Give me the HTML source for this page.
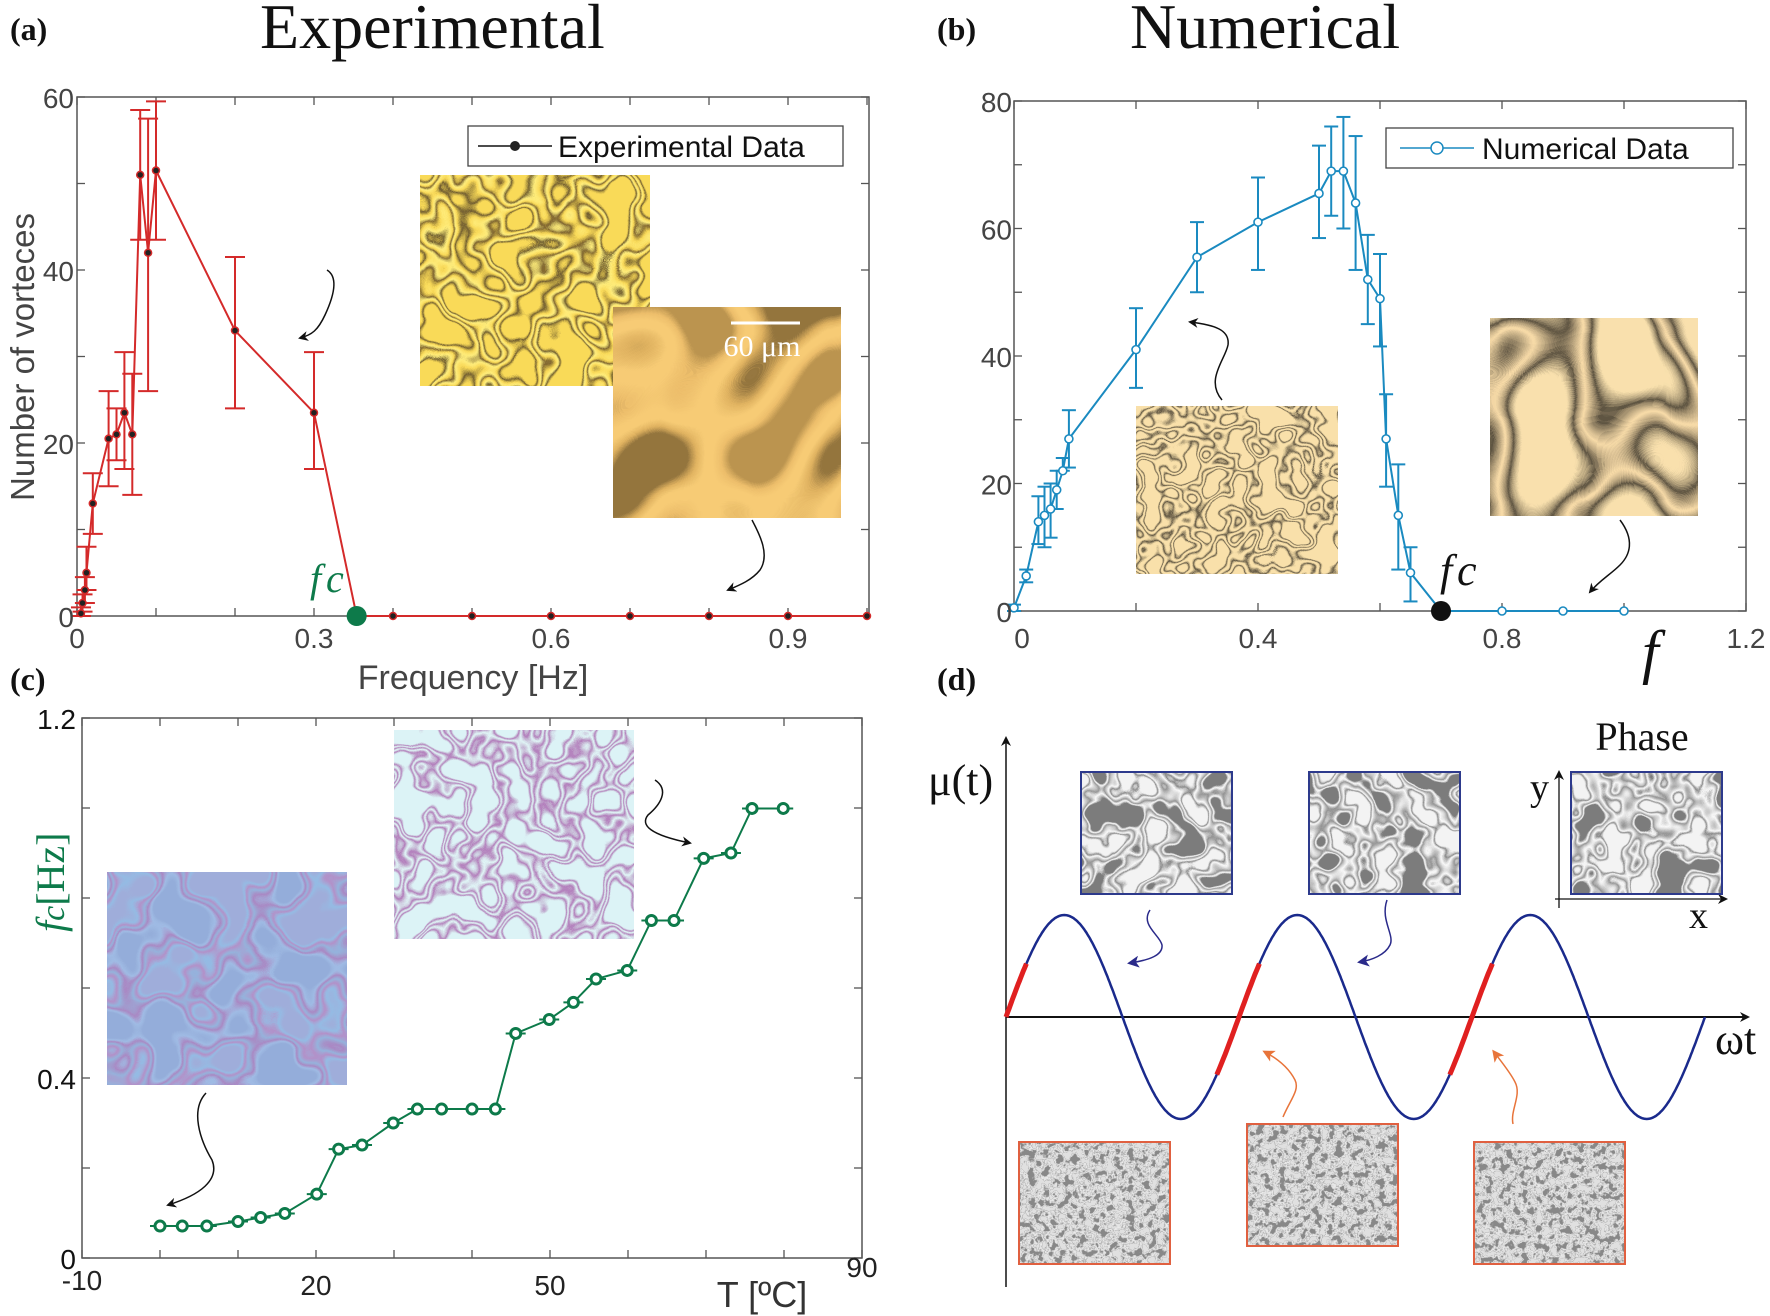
<!DOCTYPE html>
<html><head><meta charset="utf-8"><style>
html,body{margin:0;padding:0;background:#fff;}
svg{display:block;}
</style></head><body>
<svg id="s" width="1770" height="1316" viewBox="0 0 1770 1316" xmlns="http://www.w3.org/2000/svg">
<defs>
<filter id="orA" x="0" y="0" width="1" height="1">
 <feTurbulence type="fractalNoise" baseFrequency="0.022" numOctaves="2" seed="3"/>
 <feColorMatrix type="matrix" values="1 0 0 0 0 1 0 0 0 0 1 0 0 0 0 0 0 0 0 1"/>
 <feComponentTransfer><feFuncR type="linear" slope="4" intercept="-1.5"/><feFuncG type="linear" slope="4" intercept="-1.5"/><feFuncB type="linear" slope="4" intercept="-1.5"/></feComponentTransfer>
 <feComponentTransfer>
  <feFuncR type="table" tableValues="0.95 0.15 0.95 1 0.2 0.95 1 0.15 0.95"/>
  <feFuncG type="table" tableValues="0.7 0.1 0.7 0.85 0.12 0.7 0.85 0.1 0.7"/>
  <feFuncB type="table" tableValues="0.1 0.03 0.1 0.2 0.03 0.1 0.2 0.03 0.1"/>
 </feComponentTransfer>
</filter>
<filter id="orB" x="0" y="0" width="1" height="1">
 <feTurbulence type="fractalNoise" baseFrequency="0.012" numOctaves="1" seed="7"/>
 <feColorMatrix type="matrix" values="1 0 0 0 0 1 0 0 0 0 1 0 0 0 0 0 0 0 0 1"/>
 <feComponentTransfer><feFuncR type="linear" slope="4" intercept="-1.5"/><feFuncG type="linear" slope="4" intercept="-1.5"/><feFuncB type="linear" slope="4" intercept="-1.5"/></feComponentTransfer>
 <feComponentTransfer>
  <feFuncR type="table" tableValues="0.3 0.75 0.93 0.93 0.85 0.5"/>
  <feFuncG type="table" tableValues="0.18 0.45 0.6 0.6 0.52 0.3"/>
  <feFuncB type="table" tableValues="0.05 0.12 0.18 0.18 0.15 0.08"/>
 </feComponentTransfer>
</filter>
<filter id="orC" x="0" y="0" width="1" height="1">
 <feTurbulence type="fractalNoise" baseFrequency="0.035" numOctaves="2" seed="11"/>
 <feColorMatrix type="matrix" values="1 0 0 0 0 1 0 0 0 0 1 0 0 0 0 0 0 0 0 1"/>
 <feComponentTransfer><feFuncR type="linear" slope="4" intercept="-1.5"/><feFuncG type="linear" slope="4" intercept="-1.5"/><feFuncB type="linear" slope="4" intercept="-1.5"/></feComponentTransfer>
 <feComponentTransfer>
  <feFuncR type="table" tableValues="0.95 0.1 0.95 0.95 0.1 0.95 0.95 0.1 0.95"/>
  <feFuncG type="table" tableValues="0.75 0.08 0.75 0.75 0.08 0.75 0.75 0.08 0.75"/>
  <feFuncB type="table" tableValues="0.4 0.05 0.4 0.4 0.05 0.4 0.4 0.05 0.4"/>
 </feComponentTransfer>
</filter>
<filter id="orD" x="0" y="0" width="1" height="1">
 <feTurbulence type="fractalNoise" baseFrequency="0.012" numOctaves="1" seed="5"/>
 <feColorMatrix type="matrix" values="1 0 0 0 0 1 0 0 0 0 1 0 0 0 0 0 0 0 0 1"/>
 <feComponentTransfer><feFuncR type="linear" slope="4" intercept="-1.5"/><feFuncG type="linear" slope="4" intercept="-1.5"/><feFuncB type="linear" slope="4" intercept="-1.5"/></feComponentTransfer>
 <feComponentTransfer>
  <feFuncR type="table" tableValues="0.95 0.1 0.95 0.1 0.95"/>
  <feFuncG type="table" tableValues="0.75 0.08 0.72 0.08 0.75"/>
  <feFuncB type="table" tableValues="0.42 0.05 0.4 0.05 0.42"/>
 </feComponentTransfer>
</filter>
<filter id="puA" x="0" y="0" width="1" height="1">
 <feTurbulence type="fractalNoise" baseFrequency="0.02" numOctaves="2" seed="2"/>
 <feColorMatrix type="matrix" values="1 0 0 0 0 1 0 0 0 0 1 0 0 0 0 0 0 0 0 1"/>
 <feComponentTransfer><feFuncR type="linear" slope="4" intercept="-1.5"/><feFuncG type="linear" slope="4" intercept="-1.5"/><feFuncB type="linear" slope="4" intercept="-1.5"/></feComponentTransfer>
 <feComponentTransfer>
  <feFuncR type="table" tableValues="0.3 0.35 0.4 0.3 0.45 0.3 0.35"/>
  <feFuncG type="table" tableValues="0.42 0.5 0.25 0.45 0.28 0.5 0.42"/>
  <feFuncB type="table" tableValues="0.7 0.78 0.55 0.72 0.58 0.78 0.7"/>
 </feComponentTransfer>
</filter>
<filter id="puB" x="0" y="0" width="1" height="1">
 <feTurbulence type="fractalNoise" baseFrequency="0.028" numOctaves="2" seed="9"/>
 <feColorMatrix type="matrix" values="1 0 0 0 0 1 0 0 0 0 1 0 0 0 0 0 0 0 0 1"/>
 <feComponentTransfer><feFuncR type="linear" slope="4" intercept="-1.5"/><feFuncG type="linear" slope="4" intercept="-1.5"/><feFuncB type="linear" slope="4" intercept="-1.5"/></feComponentTransfer>
 <feComponentTransfer>
  <feFuncR type="table" tableValues="0.72 0.45 0.75 0.45 0.75 0.45 0.72"/>
  <feFuncG type="table" tableValues="0.9 0.2 0.92 0.2 0.92 0.2 0.9"/>
  <feFuncB type="table" tableValues="0.92 0.5 0.93 0.5 0.93 0.5 0.92"/>
 </feComponentTransfer>
</filter>
<filter id="grA" x="0" y="0" width="1" height="1">
 <feTurbulence type="fractalNoise" baseFrequency="0.035" numOctaves="2" seed="4"/>
 <feColorMatrix type="matrix" values="1 0 0 0 0 1 0 0 0 0 1 0 0 0 0 0 0 0 0 1"/>
 <feComponentTransfer><feFuncR type="linear" slope="4" intercept="-1.5"/><feFuncG type="linear" slope="4" intercept="-1.5"/><feFuncB type="linear" slope="4" intercept="-1.5"/></feComponentTransfer>
 <feComponentTransfer>
  <feFuncR type="table" tableValues="0.2 0.95 0.3 0.6 0.95 0.25 0.9"/>
  <feFuncG type="table" tableValues="0.2 0.95 0.3 0.6 0.95 0.25 0.9"/>
  <feFuncB type="table" tableValues="0.2 0.95 0.3 0.6 0.95 0.25 0.9"/>
 </feComponentTransfer>
</filter>
<filter id="grB" x="0" y="0" width="1" height="1">
 <feTurbulence type="fractalNoise" baseFrequency="0.14" numOctaves="3" seed="8"/>
 <feColorMatrix type="matrix" values="1 0 0 0 0 1 0 0 0 0 1 0 0 0 0 0 0 0 0 1"/>
 <feComponentTransfer><feFuncR type="linear" slope="4" intercept="-1.5"/><feFuncG type="linear" slope="4" intercept="-1.5"/><feFuncB type="linear" slope="4" intercept="-1.5"/></feComponentTransfer>
 <feComponentTransfer>
  <feFuncR type="table" tableValues="0.25 0.5 0.7 0.85 0.4 0.75"/>
  <feFuncG type="table" tableValues="0.25 0.5 0.7 0.85 0.4 0.75"/>
  <feFuncB type="table" tableValues="0.25 0.5 0.7 0.85 0.4 0.75"/>
 </feComponentTransfer>
</filter>
<marker id="ar" markerWidth="10" markerHeight="10" refX="8" refY="5" orient="auto" markerUnits="userSpaceOnUse"><path d="M0,0 L10,5 L0,10 L3,5 Z" fill="#111"/></marker>
<marker id="arB" markerWidth="12" markerHeight="12" refX="9" refY="6" orient="auto" markerUnits="userSpaceOnUse"><path d="M0,0 L12,6 L0,12 L3,6 Z" fill="#2a2a8a"/></marker>
<marker id="arO" markerWidth="12" markerHeight="12" refX="9" refY="6" orient="auto" markerUnits="userSpaceOnUse"><path d="M0,0 L12,6 L0,12 L3,6 Z" fill="#e8743a"/></marker>
</defs>
<g id="g"></g>
</svg>
<script>
var g=document.getElementById('g'),out='';
function E(s){out+=s;}
function L(x1,y1,x2,y2,c,w,ex){E('<line x1="'+x1+'" y1="'+y1+'" x2="'+x2+'" y2="'+y2+'" stroke="'+c+'" stroke-width="'+w+'" '+(ex||'')+'/>');}
function T(x,y,t,sz,fam,anc,col,ex){E('<text x="'+x+'" y="'+y+'" font-size="'+sz+'" font-family="'+fam+'" text-anchor="'+(anc||'start')+'" fill="'+(col||'#111')+'" '+(ex||'')+'>'+t+'</text>');}
var SANS="Liberation Sans, Arial, sans-serif",SERIF="Liberation Serif, Times New Roman, serif";
function axes(x0,x1,y0,y1,xt,yt){
 E('<rect x="'+x0+'" y="'+y0+'" width="'+(x1-x0)+'" height="'+(y1-y0)+'" fill="none" stroke="#555" stroke-width="1.5"/>');
 xt.forEach(function(x){L(x,y1,x,y1-8,'#555',1.3);L(x,y0,x,y0+8,'#555',1.3);});
 yt.forEach(function(y){L(x0,y,x0+8,y,'#555',1.3);L(x1,y,x1-8,y,'#555',1.3);});
}
// ===== Panel A =====
var AX=function(f){return 77+f*790},AY=function(v){return 616-v*(519/60)};
var xt=[],yt=[];for(var i=0;i<=10;i++)xt.push(AX(i/10));for(i=0;i<=6;i++)yt.push(AY(i*10));
E('<rect x="420" y="175" width="230" height="211" fill="#d9a020" filter="url(#orA)"/>');
E('<rect x="613" y="307" width="228" height="211" fill="#d09030" filter="url(#orB)"/>');
L(731,323,800,323,'#fff',3);
T(762,356,'60 μm',30,SERIF,'middle','#fff');
axes(77,869,97,616,xt,yt);
var ad=[[0.005,0.3],[0.007,1.5],[0.01,3],[0.012,5],[0.02,13],[0.04,20.5],[0.05,21],[0.06,23.5],[0.07,21],[0.08,51],[0.09,42],[0.1,51.5],[0.2,33],[0.3,23.5],[0.354,0],[0.4,0],[0.5,0],[0.6,0],[0.7,0],[0.8,0],[0.9,0],[1.0,0]];
var ae={0.005:[0,1],0.007:[0.5,2.5],0.01:[1.5,4.5],0.012:[3,8],0.02:[9.5,16.5],0.04:[15,26],0.05:[18,24],0.06:[17,30.5],0.07:[14,28],0.08:[43.5,58.5],0.09:[26,57.5],0.1:[43.5,59.5],0.2:[24,41.5],0.3:[17,30.5]};
var R='#d42a2a';
for(var k in ae){var x=AX(+k),a=AY(ae[k][0]),b=AY(ae[k][1]);L(x,a,x,b,R,2);L(x-10,a,x+10,a,R,2);L(x-10,b,x+10,b,R,2);}
E('<polyline fill="none" stroke="'+R+'" stroke-width="2" points="'+ad.map(function(p){return AX(p[0])+','+AY(p[1])}).join(' ')+'"/>');
ad.forEach(function(p){if(p[0]>0.35&&p[0]<0.36)return;E('<circle cx="'+AX(p[0])+'" cy="'+AY(p[1])+'" r="3.5" fill="#222" stroke="'+R+'" stroke-width="1.5"/>');});
E('<circle cx="'+AX(0.354)+'" cy="616" r="10" fill="#0d7a4a"/>');
T(310,592,'f',40,SERIF,'start','#0d7a4a','font-style="italic"');T(326,592,'c',40,SERIF,'start','#0d7a4a','font-style="italic"');
E('<rect x="468" y="126" width="375" height="40" fill="#fff" stroke="#444" stroke-width="1.3"/>');
L(478,146,552,146,'#111',1.5);E('<circle cx="515" cy="146" r="5" fill="#222"/>');
T(558,157,'Experimental Data',30,SANS,'start','#111');
[[0,'0'],[20,'20'],[40,'40'],[60,'60']].forEach(function(p){T(74,AY(p[0])+11,p[1],28,SANS,'end','#444');});
[[0,'0'],[0.3,'0.3'],[0.6,'0.6'],[0.9,'0.9']].forEach(function(p){T(AX(p[0]),648,p[1],28,SANS,'middle','#444');});
T(473,689,'Frequency [Hz]',34,SANS,'middle','#444');
T(34,357,'Number of vorteces',33,SANS,'middle','#444','transform="rotate(-90 34 357)"');
T(260,48,'Experimental',64,SERIF,'start','#111');
T(10,40,'(a)',32,SERIF,'start','#111','font-weight="bold"');
E('<path d="M327,270 C340,278 332,300 325,315 C318,330 312,335 300,338" fill="none" stroke="#111" stroke-width="1.5" marker-end="url(#ar)"/>');
E('<path d="M752,520 C760,535 770,555 760,570 C752,580 740,585 728,590" fill="none" stroke="#111" stroke-width="1.5" marker-end="url(#ar)"/>');
// ===== Panel B =====
var BX=function(f){return 1014+610*f},BY=function(v){return 611-v*6.375};
xt=[];yt=[];for(i=0;i<=6;i++)xt.push(BX(i*0.2));for(i=0;i<=8;i++)yt.push(BY(i*10));
E('<rect x="1136" y="406" width="202" height="168" fill="#e8b060" filter="url(#orC)"/>');
E('<rect x="1490" y="318" width="208" height="198" fill="#e8b060" filter="url(#orD)"/>');
axes(1014,1746,101,611,xt,yt);
var bd=[[0,0.5],[0.02,5.5],[0.04,14],[0.05,15],[0.06,16],[0.07,19],[0.08,22],[0.09,27],[0.2,41],[0.3,55.5],[0.4,61],[0.5,65.5],[0.52,69],[0.54,69],[0.56,64],[0.58,52],[0.6,49],[0.61,27],[0.63,15],[0.65,6],[0.7,0],[0.8,0],[0.9,0],[1.0,0]];
var be=[[0,0,1],[0.02,4.5,6.5],[0.04,10.5,18],[0.05,10,19.5],[0.06,11.5,20],[0.07,16,22],[0.08,22,24],[0.09,22.5,31.5],[0.2,35,47.5],[0.3,50,61],[0.4,53.5,68],[0.5,58.5,73],[0.52,62,76],[0.54,60,77.5],[0.56,53.5,74.5],[0.58,45,59],[0.6,41.5,56],[0.61,19.5,34],[0.63,6.5,23],[0.65,1.5,10]];
var B='#1a8ac0';
be.forEach(function(e){var x=BX(e[0]),a=BY(e[1]),b=BY(e[2]);L(x,a,x,b,B,2);L(x-7,a,x+7,a,B,2);L(x-7,b,x+7,b,B,2);});
E('<polyline fill="none" stroke="'+B+'" stroke-width="2" points="'+bd.map(function(p){return BX(p[0])+','+BY(p[1])}).join(' ')+'"/>');
bd.forEach(function(p){if(p[0]==0.7)return;E('<circle cx="'+BX(p[0])+'" cy="'+BY(p[1])+'" r="4" fill="#fff" stroke="'+B+'" stroke-width="1.6"/>');});
E('<ellipse cx="'+BX(0.7)+'" cy="611" rx="10" ry="10" fill="#111"/>');
T(1440,585,'f',44,SERIF,'start','#111','font-style="italic"');T(1457,585,'c',44,SERIF,'start','#111','font-style="italic"');
T(1642,672,'f',60,SERIF,'start','#111','font-style="italic"');
E('<rect x="1386" y="128" width="347" height="40" fill="#fff" stroke="#444" stroke-width="1.3"/>');
L(1400,148,1474,148,B,1.5);E('<circle cx="1437" cy="148" r="6" fill="#fff" stroke="'+B+'" stroke-width="1.5"/>');
T(1482,159,'Numerical Data',30,SANS,'start','#111');
[[0,'0'],[20,'20'],[40,'40'],[60,'60'],[80,'80']].forEach(function(p){T(1012,BY(p[0])+11,p[1],28,SANS,'end','#444');});
[[0,'0'],[0.4,'0.4'],[0.8,'0.8'],[1.2,'1.2']].forEach(function(p){T(BX(p[0])+(p[0]==0?8:0),648,p[1],28,SANS,'middle','#444');});
T(1130,48,'Numerical',64,SERIF,'start','#111');
T(937,40,'(b)',32,SERIF,'start','#111','font-weight="bold"');
E('<path d="M1222,400 C1205,380 1225,360 1228,345 C1230,330 1215,325 1190,322" fill="none" stroke="#111" stroke-width="1.5" marker-end="url(#ar)"/>');
E('<path d="M1620,520 C1635,540 1630,555 1620,565 C1610,575 1600,580 1590,592" fill="none" stroke="#111" stroke-width="1.5" marker-end="url(#ar)"/>');
// ===== Panel C =====
var CX=function(t){return 82+(t+10)*7.8},CY=function(v){return 1258-v*450};
xt=[];yt=[];for(i=0;i<=10;i++)xt.push(CX(-10+i*10));for(i=0;i<=6;i++)yt.push(CY(i*0.2));
E('<rect x="107" y="872" width="240" height="213" fill="#5070b0" filter="url(#puA)"/>');
E('<rect x="394" y="730" width="240" height="209" fill="#b0e0e8" filter="url(#puB)"/>');
axes(82,862,718,1258,xt,yt);
var cd=[[0,0.071],[2.85,0.071],[6,0.071],[10,0.081],[12.9,0.09],[16,0.099],[20.1,0.142],[22.9,0.242],[25.9,0.251],[29.9,0.3],[33,0.331],[36.1,0.331],[40,0.331],[43,0.331],[45.6,0.499],[49.9,0.53],[53,0.568],[55.9,0.62],[59.9,0.639],[63,0.75],[65.9,0.75],[69.7,0.888],[73.2,0.9],[75.9,0.999],[79.9,0.999]];
var G='#0d7a4a';
E('<polyline fill="none" stroke="'+G+'" stroke-width="2" points="'+cd.map(function(p){return CX(p[0])+','+CY(p[1])}).join(' ')+'"/>');
cd.forEach(function(p){var x=CX(p[0]),y=CY(p[1]);L(x-10,y,x+10,y,G,2);E('<circle cx="'+x+'" cy="'+y+'" r="5" fill="#fff" stroke="'+G+'" stroke-width="3"/>');});
[[0,'0'],[0.4,'0.4'],[1.2,'1.2']].forEach(function(p){T(76,CY(p[0])+11,p[1],28,SANS,'end','#111');});
[[-10,'-10',1290],[20,'20',1295],[50,'50',1295],[90,'90',1277]].forEach(function(p){T(CX(p[0]),p[2],p[1],28,SANS,'middle','#222');});
T(762,1307,'T [ºC]',36,SANS,'middle','#333');
E('<text transform="translate(64 932) rotate(-90)" font-family="'+SERIF+'" font-size="40" fill="'+G+'"><tspan font-style="italic">f</tspan><tspan font-style="italic" font-size="34">c</tspan><tspan>[Hz]</tspan></text>');
T(10,690,'(c)',32,SERIF,'start','#111','font-weight="bold"');
E('<path d="M206,1093 C190,1110 200,1140 212,1160 C220,1180 200,1195 168,1205" fill="none" stroke="#111" stroke-width="1.5" marker-end="url(#ar)"/>');
E('<path d="M655,780 C670,790 660,805 648,815 C640,825 650,835 690,843" fill="none" stroke="#111" stroke-width="1.5" marker-end="url(#ar)"/>');
// ===== Panel D =====
T(937,690,'(d)',32,SERIF,'start','#111','font-weight="bold"');
L(1006,1287,1006,738,'#111',1.5,'marker-end="url(#ar)"');
L(1006,1017,1748,1017,'#111',2,'marker-end="url(#ar)"');
var pts=[];for(i=0;i<=600;i++){var x=1006+i*(699/600),ph=i/600*6*Math.PI;pts.push(x.toFixed(1)+','+(1017-102*Math.sin(ph)).toFixed(1));}
E('<polyline fill="none" stroke="#1a2a8c" stroke-width="2.5" points="'+pts.join(' ')+'"/>');
function red(p0,p1){var s=[];for(var j=0;j<=20;j++){var ph=p0+(p1-p0)*j/20;s.push((1006+ph/(2*Math.PI)*233).toFixed(1)+','+(1017-102*Math.sin(ph)).toFixed(1));}E('<polyline fill="none" stroke="#e02020" stroke-width="5" points="'+s.join(' ')+'"/>');}
red(0,0.55);red(2*Math.PI-0.6,2*Math.PI+0.55);red(4*Math.PI-0.6,4*Math.PI+0.55);
T(928,795,'μ(t)',44,SERIF,'start','#111');
T(1715,1054,'ωt',44,SERIF,'start','#111');
T(1642,750,'Phase',40,SERIF,'middle','#111');
L(1559,908,1559,772,'#111',1.3,'marker-end="url(#ar)"');
L(1555,899,1726,899,'#111',1.3,'marker-end="url(#ar)"');
T(1530,800,'y',38,SERIF,'start','#111');T(1689,928,'x',38,SERIF,'start','#111');
[[1081,772],[1309,772],[1571,772]].forEach(function(p){E('<rect x="'+p[0]+'" y="'+p[1]+'" width="151" height="122" fill="#999" filter="url(#grA)"/><rect x="'+p[0]+'" y="'+p[1]+'" width="151" height="122" fill="none" stroke="#2d3a8c" stroke-width="2"/>');});
[[1019,1142],[1247,1124],[1474,1142]].forEach(function(p){E('<rect x="'+p[0]+'" y="'+p[1]+'" width="151" height="122" fill="#999" filter="url(#grB)"/><rect x="'+p[0]+'" y="'+p[1]+'" width="151" height="122" fill="none" stroke="#e06040" stroke-width="2"/>');});
E('<path d="M1150,910 C1140,925 1160,935 1162,945 C1163,955 1150,960 1130,963" fill="none" stroke="#2a2a8a" stroke-width="1.5" marker-end="url(#arB)"/>');
E('<path d="M1387,900 C1380,920 1395,935 1390,945 C1385,955 1372,960 1360,962" fill="none" stroke="#2a2a8a" stroke-width="1.5" marker-end="url(#arB)"/>');
E('<path d="M1283,1117 C1290,1100 1300,1090 1295,1080 C1290,1070 1280,1060 1265,1052" fill="none" stroke="#e8743a" stroke-width="1.5" marker-end="url(#arO)"/>');
E('<path d="M1513,1124 C1510,1110 1522,1095 1515,1082 C1510,1072 1500,1060 1494,1052" fill="none" stroke="#e8743a" stroke-width="1.5" marker-end="url(#arO)"/>');
g.innerHTML=out;
</script>
</body></html>
